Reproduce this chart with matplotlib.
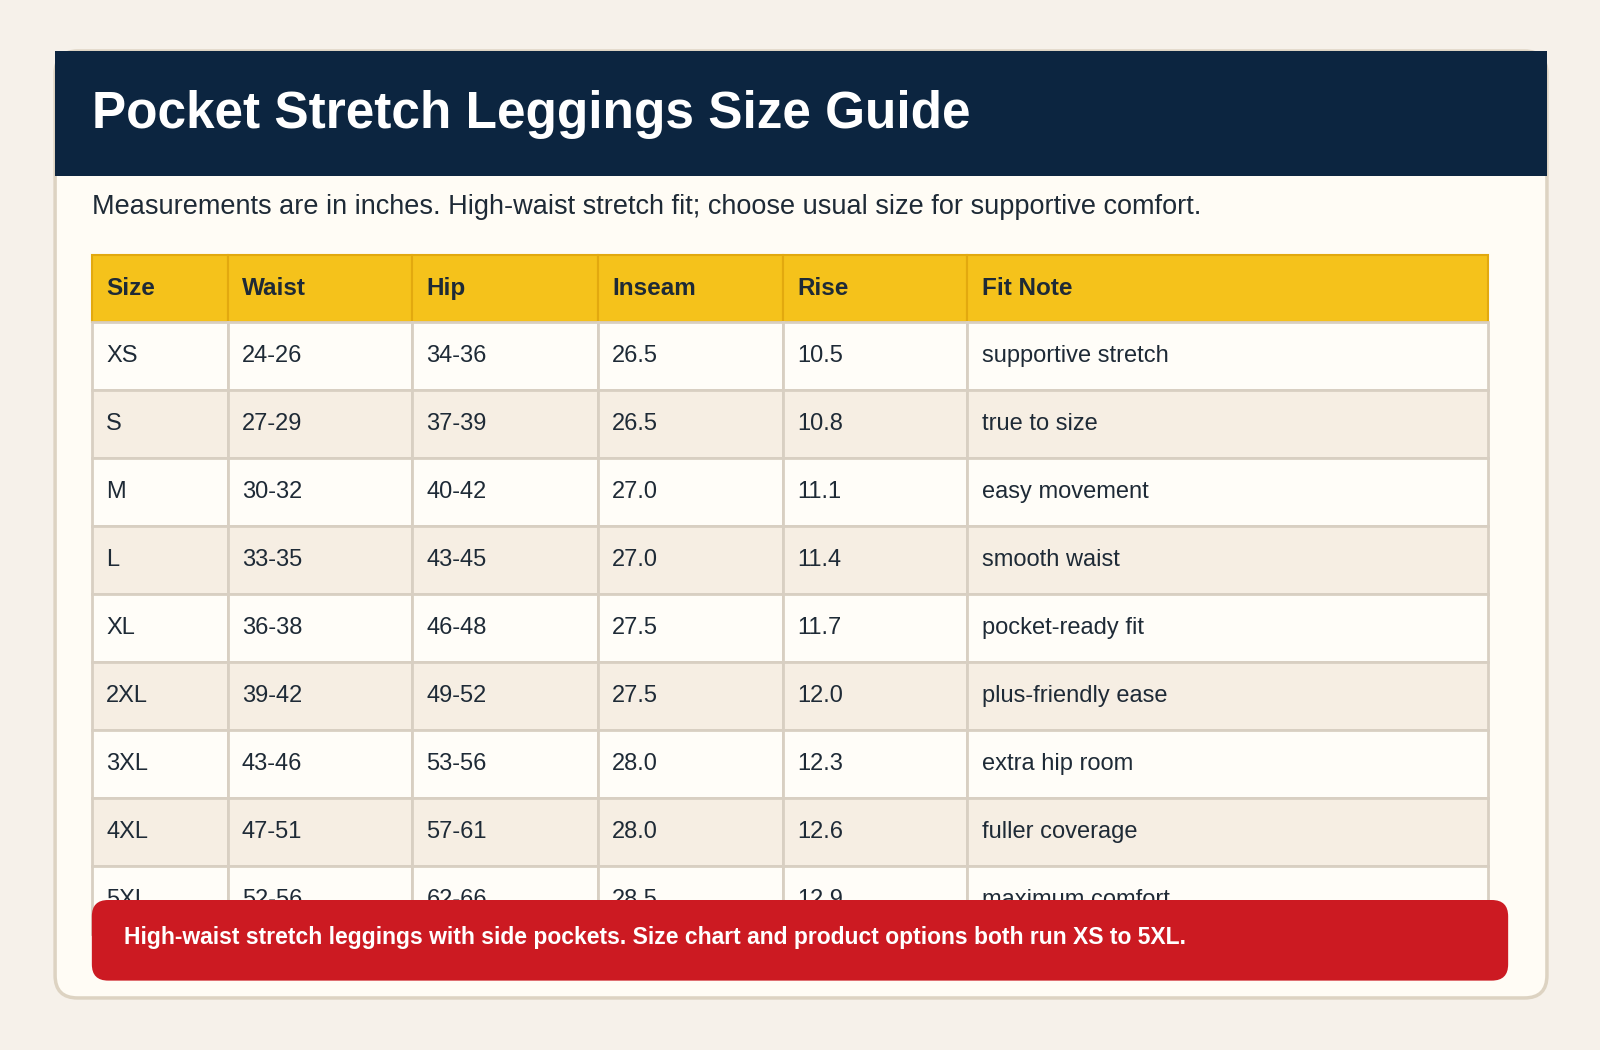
import matplotlib
matplotlib.use("Agg")
import matplotlib.pyplot as plt
from matplotlib.patches import FancyBboxPatch, Rectangle

title = "Pocket Stretch Leggings Size Guide"
subtitle = "Measurements are in inches. High-waist stretch fit; choose usual size for supportive comfort."
columns = ["Size", "Waist", "Hip", "Inseam", "Rise", "Fit Note"]
sizes = ["XS", "S", "M", "L", "XL", "2XL", "3XL", "4XL", "5XL"]
waist = ["24-26", "27-29", "30-32", "33-35", "36-38", "39-42", "43-46", "47-51", "52-56"]
hip = ["34-36", "37-39", "40-42", "43-45", "46-48", "49-52", "53-56", "57-61", "62-66"]
inseam = [26.5, 26.5, 27.0, 27.0, 27.5, 27.5, 28.0, 28.0, 28.5]
rise = [10.5, 10.8, 11.1, 11.4, 11.7, 12.0, 12.3, 12.6, 12.9]
fit_note = ["supportive stretch", "true to size", "easy movement", "smooth waist",
            "pocket-ready fit", "plus-friendly ease", "extra hip room",
            "fuller coverage", "maximum comfort"]
banner = "High-waist stretch leggings with side pockets. Size chart and product options both run XS to 5XL."

plt.rcParams['font.family'] = ['Liberation Sans', 'DejaVu Sans']
W, H = 1568, 1029
fig = plt.figure(figsize=(16, 10.5), dpi=100, facecolor="#F6F1EA")
ax = fig.add_axes([0, 0, 1, 1])
ax.set_xlim(0, W); ax.set_ylim(H, 0); ax.axis("off")

card = FancyBboxPatch((54, 50), 1462, 928, boxstyle="round,pad=0,rounding_size=22",
                      fc="#FFFCF5", ec="#DDD3C2", lw=2.5, zorder=1)
ax.add_patch(card)
ax.add_patch(Rectangle((54, 50), 1462, 122, fc="#0C2540", ec="none", zorder=2))
ax.text(90, 112, title, color="white", fontsize=37, fontweight="bold", va="center", zorder=3)
ax.text(90, 203, subtitle, color="#1E2A36", fontsize=19.5, va="center", zorder=3)

xs = [90, 223, 404, 586, 767, 948, 1458]
top, hh, rh = 250, 66, 66.6
for i, c in enumerate(columns):
    ax.add_patch(Rectangle((xs[i], top), xs[i+1]-xs[i], hh, fc="#F5C21B", ec="#E2A90F", lw=1.5, zorder=2))
    ax.text(xs[i]+14, top+hh/2, c, fontsize=17.5, fontweight="bold", color="#1E2A36", va="center", zorder=3)

rows = list(zip(sizes, waist, hip, [f"{v:.1f}" for v in inseam], [f"{v:.1f}" for v in rise], fit_note))
for r, row in enumerate(rows):
    y = top + hh + r*rh
    fc = "#FFFDF8" if r % 2 == 0 else "#F6EEE3"
    for i, val in enumerate(row):
        ax.add_patch(Rectangle((xs[i], y), xs[i+1]-xs[i], rh, fc=fc, ec="#D8CFC2", lw=2, zorder=2))
        ax.text(xs[i]+14, y+rh/2, val, fontsize=17, color="#1E2A36", va="center", zorder=3)

ax.add_patch(FancyBboxPatch((90, 882), 1388, 79, boxstyle="round,pad=0,rounding_size=16",
                            fc="#CC1A22", ec="none", zorder=5))
ax.text(122, 919, banner, color="white", fontsize=16.5, fontweight="bold", va="center", zorder=6)

fig.savefig("out.png", dpi=100, facecolor=fig.get_facecolor())
